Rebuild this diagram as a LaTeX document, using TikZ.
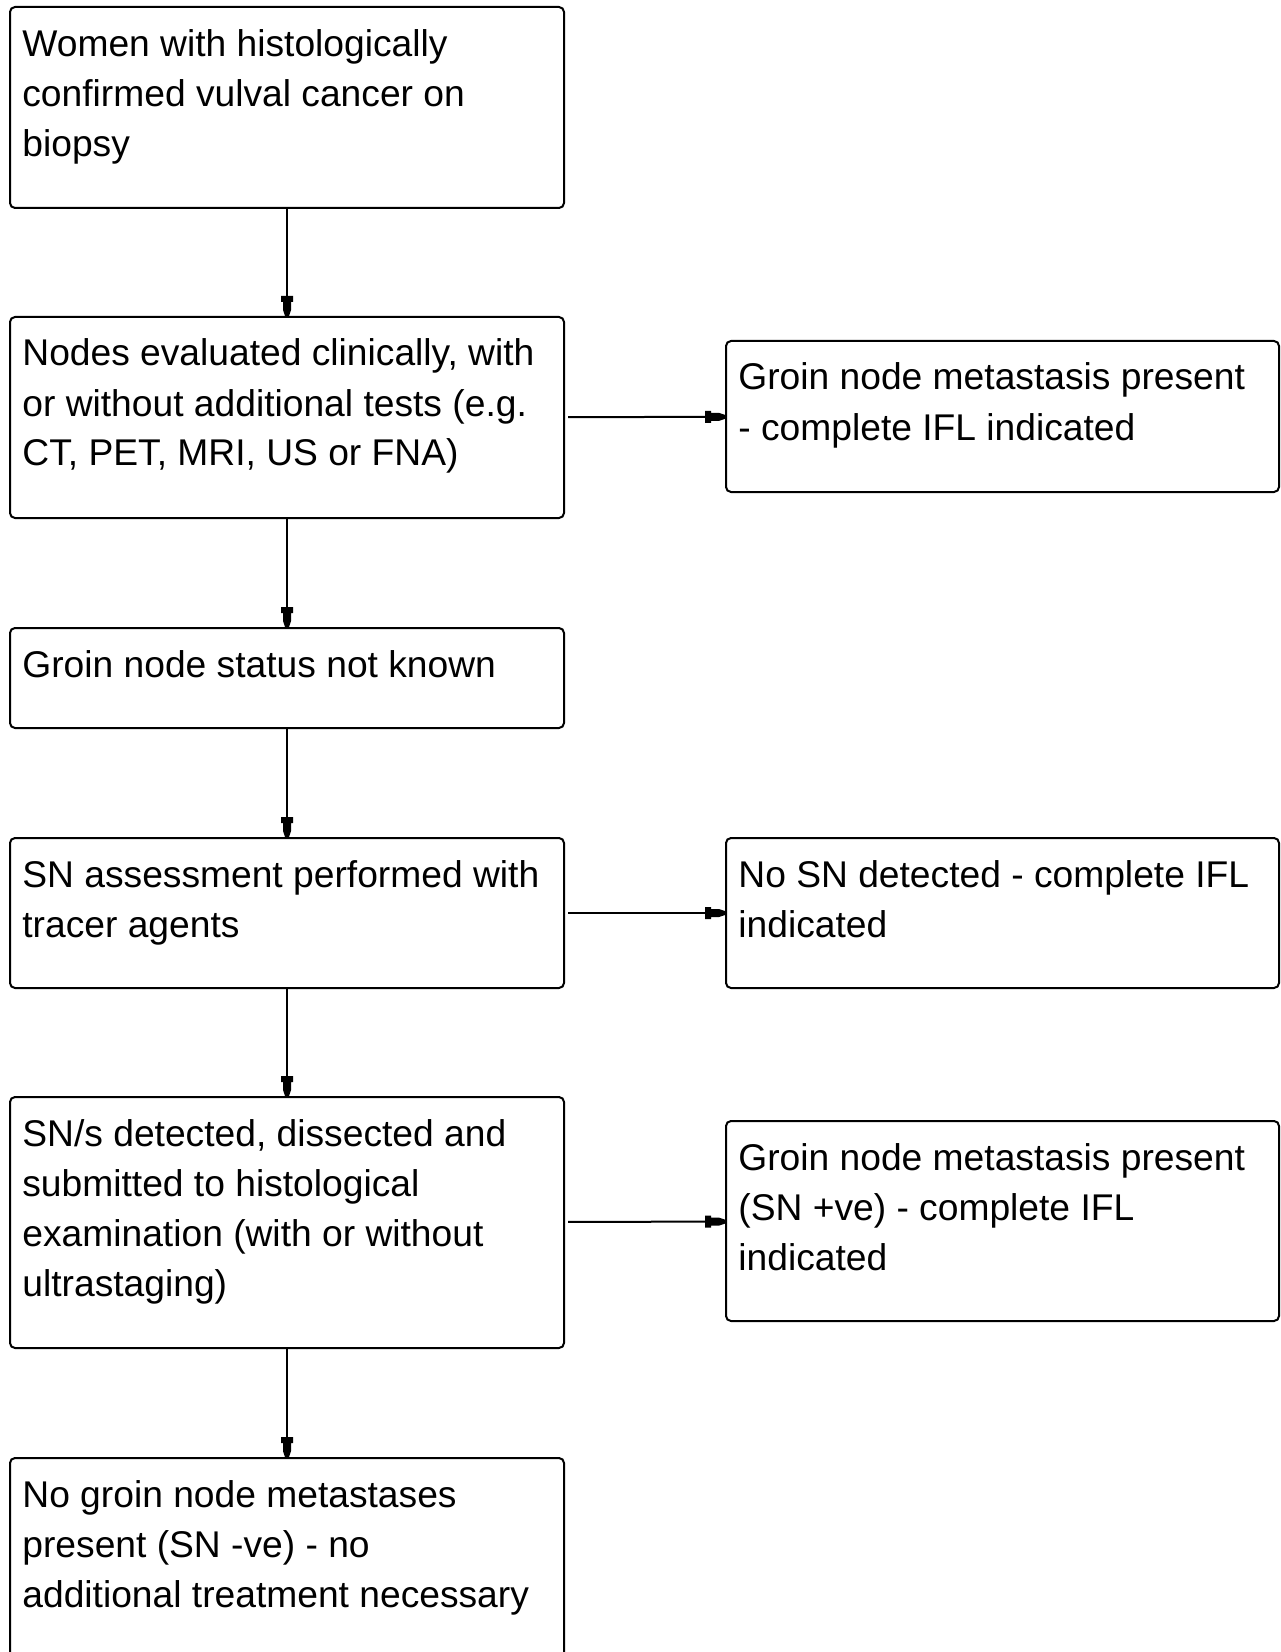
\documentclass[tikz,border=0pt]{standalone}
\usepackage{fontspec}
\setmainfont{Liberation Sans}
\usetikzlibrary{arrows.meta}
\pgfdeclarearrow{
  name = Blunt,
  setup code = {
    \pgfarrowssettipend{0pt}
    \pgfarrowssetlineend{-8pt}
    \pgfarrowssetvisualbackend{-10pt}
    \pgfarrowssetbackend{-10pt}
    \pgfarrowshullpoint{0pt}{1pt}
    \pgfarrowshullpoint{0pt}{-1pt}
    \pgfarrowshullpoint{-10pt}{3pt}
    \pgfarrowshullpoint{-10pt}{-3pt}
  },
  drawing code = {
    \pgfpathmoveto{\pgfpoint{0pt}{1pt}}
    \pgfpathlineto{\pgfpoint{-3pt}{2pt}}
    \pgfpathlineto{\pgfpoint{-7pt}{2pt}}
    \pgfpathlineto{\pgfpoint{-7pt}{3pt}}
    \pgfpathlineto{\pgfpoint{-10pt}{3pt}}
    \pgfpathlineto{\pgfpoint{-10pt}{-3pt}}
    \pgfpathlineto{\pgfpoint{-7pt}{-3pt}}
    \pgfpathlineto{\pgfpoint{-7pt}{-2pt}}
    \pgfpathlineto{\pgfpoint{-3pt}{-2pt}}
    \pgfpathlineto{\pgfpoint{0pt}{-1pt}}
    \pgfpathclose
    \pgfusepathqfill
  }
}
\newcommand{\boxtext}[1]{\parbox[t]{400pt}{\raggedright #1}}
\begin{document}
\begin{tikzpicture}[x=0.5pt,y=-0.5pt,
  fbox/.style={draw, line width=1pt, rounded corners=2.5pt, inner sep=0pt,
    anchor=north west, minimum width=277pt},
  txt/.style={anchor=base west, inner sep=0pt, text=black,
    font=\fontsize{18.6pt}{25pt}\selectfont},
  conn/.style={line width=1pt, -{Blunt}}]
\fill[white] (0,0) rectangle (1280,1652);
\clip (0,0) rectangle (1280,1652);

% left column
\node[fbox, minimum height=100.5pt] (b1) at (9,6) {};
\node[fbox, minimum height=100.5pt] (b2) at (9,316) {};
\node[fbox, minimum height=50pt]    (b3) at (9,627) {};
\node[fbox, minimum height=75pt]    (b4) at (9,837) {};
\node[fbox, minimum height=125.5pt] (b5) at (9,1096) {};
\node[fbox, minimum height=125pt]   (b6) at (9,1457) {};

% right column
\node[fbox, minimum width=276.5pt, minimum height=75.5pt] (ra) at (725,340) {};
\node[fbox, minimum width=276.5pt, minimum height=75pt]   (rb) at (725,837) {};
\node[fbox, minimum width=276.5pt, minimum height=100pt]  (rc) at (725,1120) {};

% texts
\node[txt] (t1) at ([xshift=6.5pt,yshift=-25.5pt]b1.north west)
  {\boxtext{Women with histologically\\confirmed vulval cancer on\\biopsy}};
\node[txt] (t2) at ([xshift=6.5pt,yshift=-25pt]b2.north west)
  {\boxtext{Nodes evaluated clinically, with\\or without additional tests (e.g.\\CT, PET, MRI, US or FNA)}};
\node[txt] (t3) at ([xshift=6.5pt,yshift=-25pt]b3.north west)
  {\boxtext{Groin node status not known}};
\node[txt] (t4) at ([xshift=6.5pt,yshift=-25pt]b4.north west)
  {\boxtext{SN assessment performed with\\tracer agents}};
\node[txt] (t5) at ([xshift=6.5pt,yshift=-25pt]b5.north west)
  {\boxtext{SN/s detected, dissected and\\submitted to histological\\examination (with or without\\ultrastaging)}};
\node[txt] (t6) at ([xshift=6.5pt,yshift=-25pt]b6.north west)
  {\boxtext{No groin node metastases\\present (SN -ve) - no\\additional treatment necessary}};
\node[txt] (ta) at ([xshift=6.5pt,yshift=-25pt]ra.north west)
  {\boxtext{Groin node metastasis present\\- complete IFL indicated}};
\node[txt] (tb) at ([xshift=6.5pt,yshift=-25pt]rb.north west)
  {\boxtext{No SN detected - complete IFL\\indicated}};
\node[txt] (tc) at ([xshift=6.5pt,yshift=-25pt]rc.north west)
  {\boxtext{Groin node metastasis present\\(SN +ve) - complete IFL\\indicated}};

% connectors
\draw[conn] (b1) -- (b2);
\draw[conn] (b2) -- (b3);
\draw[conn] (b3) -- (b4);
\draw[conn] (b4) -- (b5);
\draw[conn] (b5) -- (b6);
\draw[conn, shorten <=1.5pt] (b2) -- (ra);
\draw[conn, shorten <=1.5pt] (b4) -- (rb);
\draw[conn, shorten <=1.5pt] (b5) -- (rc);
\end{tikzpicture}
\end{document}
